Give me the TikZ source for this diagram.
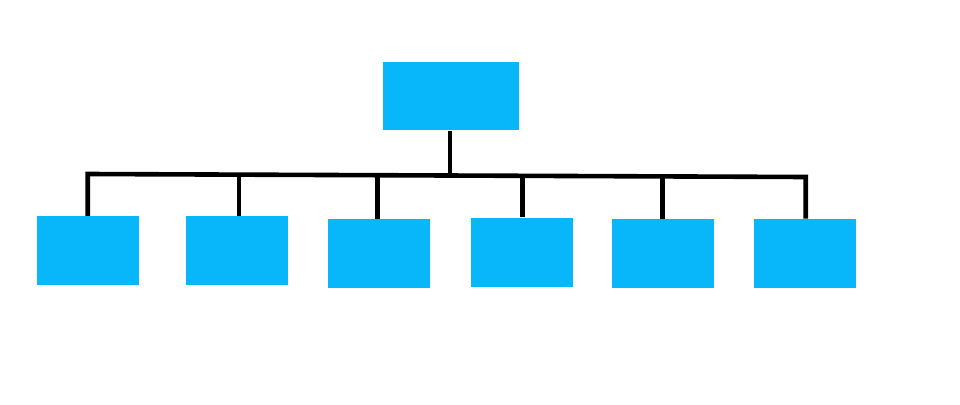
\documentclass[tikz,border=0pt]{standalone}
\begin{document}
\begin{tikzpicture}[x=1pt,y=-1pt,
  box/.style={fill=boxblue,draw=none,inner sep=0pt,minimum width=102pt,minimum height=69pt},
  topbox/.style={box,minimum width=136pt,minimum height=68.6pt},
  conn/.style={line width=4.6pt,draw=black,line join=miter}]
\definecolor{boxblue}{RGB}{8,182,250}
\useasboundingbox (0,0) rectangle (960,404);
\node[topbox] (top) at (451,96) {};
\node[box] (c1) at (88.3,250.6) {};
\node[box] (c2) at (236.7,250.6) {};
\node[box] (c3) at (378.5,253.4) {};
\node[box] (c4) at (521.7,252.0) {};
\node[box] (c5) at (663.3,253.4) {};
\node[box] (c6) at (804.7,253.4) {};
\coordinate (bL) at (87.7,174.0);
\coordinate (b2) at (239,174.6);
\coordinate (b3) at (377.7,175.2);
\coordinate (bt) at (450,175.5);
\coordinate (b4) at (522.7,175.8);
\coordinate (b5) at (662.7,176.4);
\coordinate (bR) at (805.7,177.0);
\draw[conn] (bL |- c1.north) -- (bL) -- (bR) -- (bR |- c6.north);
\draw[conn] (bt |- top.south) -- (bt);
\draw[conn] (b2) -- (b2 |- c2.north);
\draw[conn] (b3) -- (b3 |- c3.north);
\draw[conn] (b4) -- (b4 |- c4.north);
\draw[conn] (b5) -- (b5 |- c5.north);
\end{tikzpicture}
\end{document}
